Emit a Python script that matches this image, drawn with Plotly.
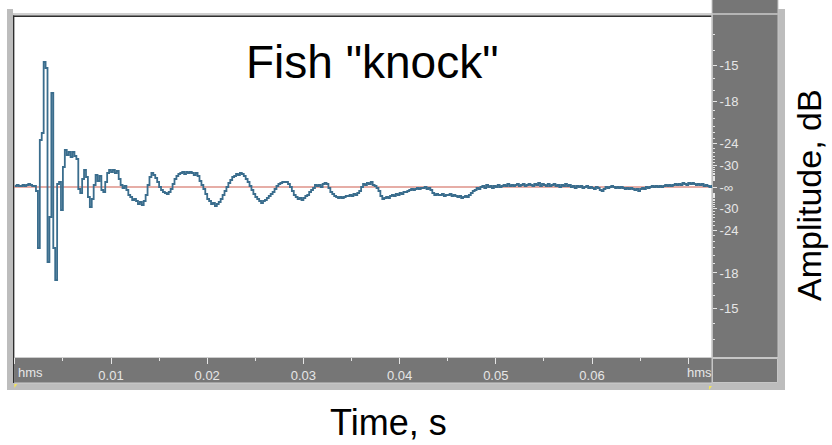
import numpy as np
import plotly.graph_objects as go

# ---------------------------------------------------------------------------
# Data: 16-bit PCM samples of the fish "knock", sampled every 0.2 ms
# ---------------------------------------------------------------------------
sample_period = 0.0002  # seconds

onset = [
    48, 96, 48, 48, 96, 48, 96, 144, 96, 48, 48, -192, -2928, 2256, 2592,
    6000, 5712, -3600, -1440, 4512, -2928, -4464, 144, 240, -1104,
]

ringing = [
    960, 1776, 1536, 1680, 1440, 1680, 1488, 1344, -96, -288,
    384, 816, 480, -480, -960, -576, 96, 576, 288, 528,
    -144, -240, 240, 672, 816, 720, 816, 672, 768, 384,
    96, -48, 48, -144, -384, -480, -624, -576, -672, -816,
    -720, -864, -672, -384, 96, 480, 672, 576, 432, 240,
    0, -144, -240, -288, -336, -240, -96, 144, 384, 528,
    624, 672, 720, 624, 720, 672, 720, 672, 576, 672,
    528, 288, 96, -96, -336, -576, -672, -816, -768, -912,
    -816, -720, -576, -384, -192, 0, 192, 336, 480, 528,
    624, 576, 672, 624, 528, 384, 240, 48, -144, -336,
    -480, -576, -672, -768, -672, -624, -528, -432, -336, -240,
    -96, 48, 144, 192, 240, 240, 240, 144, 0, -192,
    -384, -480, -576, -528, -624, -528, -432, -384, -240, -144,
    -48, 96, 48, 96, 0, 144, 192, 144, -48, -240,
    -336, -432, -480, -528, -480, -528, -480, -432, -432, -384,
    -432, -336, -384, -288, -192, 0, 144, 96, 192, 144,
    240, 96, 48, -48, -192, -432, -576, -528, -480, -528,
    -432, -384, -432, -336, -384, -288, -336, -240, -240, -192,
    -144, -96, -144, -96, -48, -96, -48, -48, 0, -96,
    -48, -144, -288, -384, -336, -384, -384, -336, -432, -384,
    -384, -336, -432, -384, -432, -480, -432, -528, -480, -432,
    -480, -384, -288, -192, -144, -48, -96, 0, 48, -48,
    96, 0, 48, -48, 48, 0,
]

tail = [
    96, 0, 48, 96, 48, 144, 48, 96, 48, 96,
    144, 48, 96, 144, 48, 96, 144, 96, 48, 144,
    96, 192, 48, 144, 96, 48, 144, 48, 96, 144,
    48, 96,
    0, 96, 48, 144, 48, 96, 0, 48, -48, 48,
    0, 48, -48, 0, 48, -48, 0, -48,
    -96, 0, -48, -144, -192, -96, 0, -48, 0, 48,
    0, -48, 0, -48, 0, -48, -96, -48, -96, -48,
    -96, -144, -96, -192, -96, -48, -96, 0, -48, 0,
    48, 0, 48, 0, 48, 0, 48, 96, 48, 96,
    48, 96, 144, 96, 144, 96, 192, 144, 96, 192,
    144, 192, 144, 96, 144, 96, 144, 48, 96, 48,
    0, 48, 0,
]

# Ruler scales
full_scale = 32768
db_marks = [-15, -18, -24, -30]
db_minor = [d for d in range(-12, -41, -1) if d not in db_marks]
time_marks = [0.01, 0.02, 0.03, 0.04, 0.05, 0.06]
time_minor = [0.005, 0.015, 0.025, 0.035, 0.045, 0.055, 0.065]
hms_marks = [0.0, 0.07]

samples = np.array(onset + ringing + tail, dtype=float)
t = np.arange(samples.size) * sample_period

# ---------------------------------------------------------------------------
# Geometry of the editor window (pixels)
# ---------------------------------------------------------------------------
W, H = 832, 445
PL, PR, PT, PB = 14, 712, 17, 357
RULER = "#767676"
RULER_TXT = "#e6e6e6"
FONT = "Liberation Sans, Arial, sans-serif"
RULER_FONT = dict(size=13, color=RULER_TXT, family=FONT)


def px(x):
    return (x - PL) / (PR - PL)


def py(y):
    return (PB - y) / (PB - PT)


shapes = []


def rect(x0, y0, x1, y1, fill, line=None, lw=0):
    shapes.append(dict(
        type="rect", xref="paper", yref="paper", layer="below",
        x0=px(x0), x1=px(x1), y0=py(y1), y1=py(y0),
        fillcolor=fill, line=dict(width=lw, color=line or fill),
    ))


# window frame
rect(7, 9, 785, 390, "#bdbdbd")
rect(13, -5, 712, 13, "white")
rect(14.3, 17, 712, 357, "white")
rect(13, 13, 712, 16, "#d0d0d0")
rect(13, 15.5, 712, 17, "#2e2e2e")
rect(13, 15.5, 14.3, 383, "#2e2e2e")
# amplitude ruler (right)
rect(712, -5, 778, 357.5, RULER, "#c6c6c6", 1)
rect(712, 13, 778, 15, "#b5b5b5")
# time ruler (bottom)
rect(14.3, 357, 712, 383, RULER)
rect(14.3, 357, 712, 358, "#cdcdcd")
rect(14.3, 382.5, 712, 383.5, "#cdcdcd")
rect(712.5, 358.5, 777.5, 382.5, RULER, "#c6c6c6", 1)
rect(711.5, 13, 712.8, 383, "#c6c6c6")

# small yellow position markers
for x0, y0 in [(14.3, 384), (709, 386)]:
    shapes.append(dict(
        type="path", xref="paper", yref="paper", layer="above",
        path=f"M {px(x0)} {py(y0)} L {px(x0 + 3)} {py(y0)} L {px(x0)} {py(y0 + 4)} Z",
        fillcolor="#f2e35a", line=dict(width=0),
    ))

# zero-amplitude centre line
shapes.append(dict(
    type="line", xref="paper", yref="y", x0=0, x1=1, y0=0, y1=0,
    layer="below", line=dict(color="#cd5c4f", width=1.2),
))


def level(db):
    return full_scale * 10 ** (db / 20)


ytickvals = [level(d) for d in db_marks] + [0] + [-level(d) for d in db_marks]
yticktext = [str(d) for d in db_marks] + ["-\u221e"] + [str(d) for d in db_marks]
yminor = [level(d) for d in db_minor] + [-level(d) for d in db_minor]

fig = go.Figure()
fig.add_trace(go.Scatter(
    x=t, y=samples, mode="lines", line_shape="hv",
    line=dict(color="#3a6d8d", width=1.8), hoverinfo="skip",
))

x_per_px = 0.01 / 96.2
fig.update_layout(
    width=W, height=H,
    margin=dict(l=PL, r=W - PR, t=PT, b=H - PB, pad=0),
    paper_bgcolor="white", plot_bgcolor="white",
    showlegend=False,
    font=dict(family=FONT),
    shapes=shapes,
    xaxis=dict(
        range=[-0.8 * x_per_px, (PR - PL - 0.8) * x_per_px],
        tickmode="array",
        tickvals=[0.0] + time_marks + [0.07],
        ticktext=[""] + [f"{v:.2f}" for v in time_marks] + [""],
        ticks="outside", ticklen=6, tickwidth=1, tickcolor=RULER_TXT,
        tickfont=RULER_FONT,
        minor=dict(tickvals=time_minor, ticks="outside", ticklen=3,
                   tickwidth=1, tickcolor=RULER_TXT),
        showgrid=False, zeroline=False, showline=False, fixedrange=True,
    ),
    yaxis=dict(
        side="right",
        range=[-8160, 8160],
        tickmode="array", tickvals=ytickvals, ticktext=yticktext,
        ticks="outside", ticklen=4, tickwidth=1, tickcolor=RULER_TXT,
        tickfont=RULER_FONT,
        minor=dict(tickvals=yminor, ticks="outside", ticklen=2,
                   tickwidth=1, tickcolor=RULER_TXT),
        showgrid=False, zeroline=False, showline=False, fixedrange=True,
    ),
)

annotations = [
    dict(text='Fish "knock"', xref="paper", yref="paper", x=px(372), y=py(62),
         xanchor="center", yanchor="middle", showarrow=False,
         font=dict(size=46, color="black", family=FONT)),
    dict(text="Time, s", xref="paper", yref="paper", x=px(388.5), y=py(422),
         xanchor="center", yanchor="middle", showarrow=False,
         font=dict(size=36, color="black", family=FONT)),
    dict(text="Amplitude, dB", xref="paper", yref="paper", x=px(809), y=py(195),
         xanchor="center", yanchor="middle", textangle=-90, showarrow=False,
         font=dict(size=34, color="black", family=FONT)),
]
for v, shift in zip(hms_marks, [1, -3]):
    annotations.append(dict(
        text="hms", xref="x", yref="paper", x=v, y=py(372), xshift=shift,
        xanchor="left", yanchor="middle", showarrow=False,
        font=RULER_FONT,
    ))
fig.update_layout(annotations=annotations)

fig.write_html("out.html")
